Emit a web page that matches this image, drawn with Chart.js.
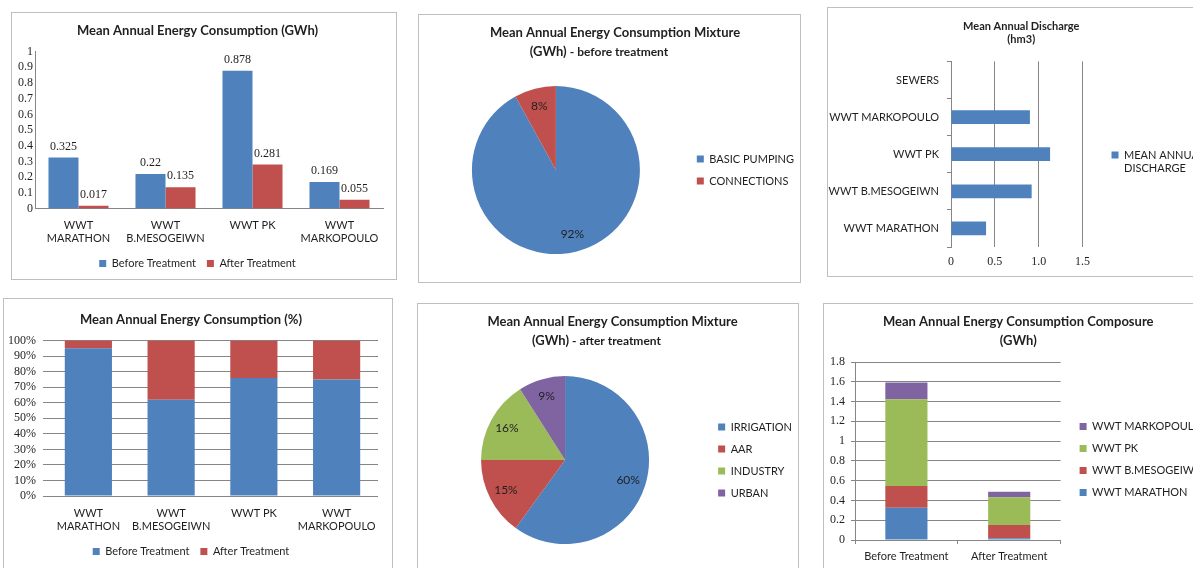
<!DOCTYPE html>
<html>
<head>
<meta charset="utf-8">
<script src="https://cdn.jsdelivr.net/npm/chart.js@4.4.1/dist/chart.umd.min.js"></script>
<style>
html, body { margin:0; padding:0; background:#fff; width:1193px; height:568px; overflow:hidden; }
.panel { position:absolute; border:1px solid #bfbfbf; box-sizing:border-box; overflow:hidden; background:#fff; }
.inner { position:absolute; left:0; top:0; }
</style>
</head>
<body>
<div class="panel" style="left:11px;top:12px;width:386px;height:268px"><div class="inner" style="width:384px;height:266px"><canvas id="c1"></canvas></div></div>
<div class="panel" style="left:418px;top:14px;width:383px;height:269px"><div class="inner" style="width:385px;height:267px"><canvas id="c2"></canvas></div></div>
<div class="panel" style="left:827px;top:7px;width:400px;height:270px"><div class="inner" style="width:390px;height:268px"><canvas id="c3"></canvas></div></div>
<div class="panel" style="left:3px;top:298px;width:390px;height:300px"><div class="inner" style="width:388px;height:268px"><canvas id="c4"></canvas></div></div>
<div class="panel" style="left:417px;top:303px;width:382px;height:300px"><div class="inner" style="width:384px;height:264px"><canvas id="c5"></canvas></div></div>
<div class="panel" style="left:823px;top:303px;width:400px;height:300px"><div class="inner" style="width:390px;height:264px"><canvas id="c6"></canvas></div></div>
<script>
// valores
const plants = [['WWT', 'MARATHON'], ['WWT', 'B.MESOGEIWN'], 'WWT PK', ['WWT', 'MARKOPOULO']];
const plantNames = ['WWT MARATHON', 'WWT B.MESOGEIWN', 'WWT PK', 'WWT MARKOPOULO'];
const beforeGWh = [0.325, 0.22, 0.878, 0.169];
const afterGWh = [0.017, 0.135, 0.281, 0.055];
const beforePct = [95, 62, 76, 75];
const afterPct = [5, 38, 24, 25];
const phases = ['Before Treatment', 'After Treatment'];

const mixBeforeLabels = ['BASIC PUMPING', 'CONNECTIONS'];
const mixBeforeValues = [92, 8];
const mixAfterLabels = ['IRRIGATION', 'AAR', 'INDUSTRY', 'URBAN'];
const mixAfterValues = [60, 15, 16, 9];

const dischargeSites = ['SEWERS', 'WWT MARKOPOULO', 'WWT PK', 'WWT B.MESOGEIWN', 'WWT MARATHON'];
const dischargeValues = [null, 0.9, 1.13, 0.92, 0.4];

// colores estilo Excel
const BLUE = '#4F81BD';
const RED = '#C0504D';
const GREEN = '#9BBB59';
const PURPLE = '#8064A2';
const AXIS = '#868686';
const TEXT = '#1f1f1f';
const SANS = 'Lato, "Open Sans", sans-serif';
const SERIF = '"Liberation Serif", "DejaVu Serif", serif';

Chart.defaults.animation = false;
Chart.defaults.responsive = true;
Chart.defaults.maintainAspectRatio = false;
Chart.defaults.color = TEXT;
Chart.defaults.plugins.tooltip.enabled = false;

function titleOpts(text, size, padTop, padBottom, lineHeight) {
    return {
        display: true, text: text, color: TEXT,
        font: { family: SANS, size: size, weight: 'bold', lineHeight: lineHeight || 1.2 },
        padding: { top: padTop, bottom: padBottom }
    };
}

function legendOpts(position) {
    return {
        position: position,
        fullSize: position === 'bottom',
        maxWidth: 250,
        labels: { boxWidth: 7, boxHeight: 7, color: TEXT, padding: 11, font: { family: SANS, size: 11 } }
    };
}

// subtítulo invisible que reserva el espacio; el texto lo pinta mixedSubtitle
function subtitleOpts(text) {
    return {
        display: true, text: text, color: 'rgba(0,0,0,0)',
        font: { family: SANS, size: 13, weight: 'bold' },
        padding: { top: 3, bottom: 8 }
    };
}

// eje invisible para dejar hueco entre el área y la leyenda
function gapAxis(width) {
    return {
        position: 'right', display: true,
        grid: { display: false }, border: { display: false }, ticks: { display: false },
        afterFit(s) { s.width = width; }
    };
}

const fmtTick = v => String(Math.round(v * 10) / 10);

// etiquetas de valor encima de las barras
const barValueLabels = {
    id: 'barValueLabels',
    afterDatasetsDraw(chart) {
        const ctx = chart.ctx;
        ctx.save();
        ctx.font = '12px ' + SERIF;
        ctx.fillStyle = TEXT;
        ctx.textAlign = 'center';
        ctx.textBaseline = 'bottom';
        chart.data.datasets.forEach((ds, d) => {
            chart.getDatasetMeta(d).data.forEach((bar, i) => {
                ctx.fillText(String(ds.data[i]), bar.x, bar.y - 5);
            });
        });
        ctx.restore();
    }
};

// porcentajes dentro de las porciones
const pieValueLabels = {
    id: 'pieValueLabels',
    afterDatasetsDraw(chart) {
        const ctx = chart.ctx;
        const values = chart.data.datasets[0].data;
        ctx.save();
        ctx.font = '12px ' + SANS;
        ctx.fillStyle = TEXT;
        ctx.textAlign = 'center';
        ctx.textBaseline = 'middle';
        chart.getDatasetMeta(0).data.forEach((arc, i) => {
            const p = arc.getProps(['x', 'y', 'startAngle', 'endAngle', 'outerRadius']);
            const mid = (p.startAngle + p.endAngle) / 2;
            const r = p.outerRadius * 0.79;
            ctx.fillText(values[i] + '%', p.x + Math.cos(mid) * r, p.y + Math.sin(mid) * r);
        });
        ctx.restore();
    }
};

// segunda línea del título con dos tamaños de letra
const mixedSubtitle = {
    id: 'mixedSubtitle',
    afterDraw(chart, args, opts) {
        if (!opts.parts) return;
        const ctx = chart.ctx;
        const tb = chart.titleBlock;
        const baseline = tb.bottom + 3 + 7.8 + 4.5;
        ctx.save();
        ctx.fillStyle = TEXT;
        ctx.textBaseline = 'alphabetic';
        ctx.textAlign = 'left';
        const widths = opts.parts.map(([txt, size]) => {
            ctx.font = 'bold ' + size + 'px ' + SANS;
            return ctx.measureText(txt).width;
        });
        const total = widths.reduce((a, b) => a + b, 0);
        let x = (tb.left + tb.right) / 2 - total / 2 + (opts.shift || 0);
        opts.parts.forEach(([txt, size], i) => {
            ctx.font = 'bold ' + size + 'px ' + SANS;
            ctx.fillText(txt, x, baseline);
            x += widths[i];
        });
        ctx.restore();
    }
};

// 1. consumo anual (GWh)
const chart1 = new Chart(document.getElementById('c1'), {
    type: 'bar',
    data: {
        labels: plants,
        datasets: [
            { label: phases[0], data: beforeGWh, backgroundColor: BLUE, categoryPercentage: 0.69, barPercentage: 1 },
            { label: phases[1], data: afterGWh, backgroundColor: RED, categoryPercentage: 0.69, barPercentage: 1 }
        ]
    },
    options: {
        layout: { padding: { left: 0, right: 13, top: 0, bottom: 0 } },
        plugins: {
            title: titleOpts('Mean Annual Energy Consumption (GWh)', 13, 10, 13),
            legend: legendOpts('bottom')
        },
        scales: {
            x: {
                grid: { display: false, drawTicks: false },
                border: { color: AXIS },
                ticks: { autoSkip: false, maxRotation: 0, padding: 10, font: { family: SANS, size: 11 } },
                afterFit(s) { s.height = 38.5; }
            },
            y: {
                min: 0, max: 1,
                grid: { display: false, drawTicks: false },
                border: { color: AXIS },
                ticks: { stepSize: 0.1, autoSkip: false, padding: 2, callback: fmtTick, font: { family: SERIF, size: 12 } },
                afterFit(s) { s.width = 23; }
            }
        }
    },
    plugins: [barValueLabels]
});

// 2. mezcla antes del tratamiento
const chart2 = new Chart(document.getElementById('c2'), {
    type: 'pie',
    data: {
        labels: mixBeforeLabels,
        datasets: [{ data: mixBeforeValues, backgroundColor: [BLUE, RED], borderWidth: 0, radius: 84 }]
    },
    options: {
        layout: { padding: { left: 7, right: 0, top: 0, bottom: 9 } },
        plugins: {
            title: titleOpts('Mean Annual Energy Consumption Mixture', 13, 10, 0),
            subtitle: subtitleOpts('(GWh) - before treatment'),
            mixedSubtitle: { parts: [['(GWh) ', 13], ['- before treatment', 12]], shift: -16 },
            legend: legendOpts('right')
        }
    },
    plugins: [pieValueLabels, mixedSubtitle]
});

// 3. caudal anual
const legend3 = legendOpts('right');
legend3.title = { display: true, text: '', padding: 2, font: { size: 11 } };
legend3.labels.generateLabels = function (chart) {
    const items = Chart.defaults.plugins.legend.labels.generateLabels(chart);
    items.forEach(it => {
        const words = it.text.split(' ');
        it.text = [words.slice(0, 2).join(' '), words.slice(2).join(' ')];
    });
    return items;
};
const chart3 = new Chart(document.getElementById('c3'), {
    type: 'bar',
    data: {
        labels: dischargeSites,
        datasets: [{ label: 'MEAN ANNUAL DISCHARGE', data: dischargeValues, backgroundColor: BLUE, categoryPercentage: 0.37, barPercentage: 1 }]
    },
    options: {
        indexAxis: 'y',
        layout: { padding: { left: 0, right: 3.5, top: 0, bottom: 0 } },
        plugins: {
            title: titleOpts(['Mean Annual Discharge', '(hm3)'], 11, 12, 15),
            legend: legend3
        },
        scales: {
            x: {
                min: 0, max: 1.5,
                grid: { color: AXIS, drawTicks: false },
                border: { display: false },
                ticks: { stepSize: 0.5, padding: 8, font: { family: SERIF, size: 12 } },
                afterFit(s) { s.height = 29; }
            },
            y: {
                grid: { color: AXIS, drawOnChartArea: false, tickLength: 4 },
                border: { color: AXIS },
                ticks: { padding: 8, font: { family: SANS, size: 11 } },
                afterFit(s) { s.width = 123; }
            },
            gap: gapAxis(18)
        }
    }
});

// 4. consumo anual (%)
const chart4 = new Chart(document.getElementById('c4'), {
    type: 'bar',
    data: {
        labels: plants,
        datasets: [
            { label: phases[0], data: beforePct, backgroundColor: BLUE, categoryPercentage: 0.57, barPercentage: 1 },
            { label: phases[1], data: afterPct, backgroundColor: RED, categoryPercentage: 0.57, barPercentage: 1 }
        ]
    },
    options: {
        layout: { padding: { left: 0, right: 14, top: 0, bottom: 0 } },
        plugins: {
            title: titleOpts('Mean Annual Energy Consumption (%)', 13, 13, 13),
            legend: legendOpts('bottom')
        },
        scales: {
            x: {
                stacked: true,
                grid: { display: false, drawTicks: false },
                border: { display: false },
                ticks: { autoSkip: false, maxRotation: 0, padding: 10.5, font: { family: SANS, size: 11 } },
                afterFit(s) { s.height = 39; }
            },
            y: {
                stacked: true,
                min: 0, max: 100,
                grid: { color: AXIS, tickLength: 4 },
                border: { display: false },
                ticks: { stepSize: 10, autoSkip: false, padding: 7, font: { family: SERIF, size: 12 }, callback: v => v + '%' },
                afterFit(s) { s.width = 43; }
            }
        }
    }
});

// 5. mezcla después del tratamiento
const chart5 = new Chart(document.getElementById('c5'), {
    type: 'pie',
    data: {
        labels: mixAfterLabels,
        datasets: [{ data: mixAfterValues, backgroundColor: [BLUE, RED, GREEN, PURPLE], borderWidth: 0, radius: 84 }]
    },
    options: {
        layout: { padding: { left: 5, right: 0, top: 0, bottom: 4 } },
        plugins: {
            title: titleOpts('Mean Annual Energy Consumption Mixture', 13, 10, 0),
            subtitle: subtitleOpts('(GWh) - after treatment'),
            mixedSubtitle: { parts: [['(GWh) ', 13], ['- after treatment', 12]], shift: -16 },
            legend: legendOpts('right')
        }
    },
    plugins: [pieValueLabels, mixedSubtitle]
});

// 6. composición del consumo
const siteColors = [BLUE, RED, GREEN, PURPLE];
const legend6 = legendOpts('right');
legend6.reverse = true;
legend6.title = { display: true, text: '', padding: 2, font: { size: 11 } };
const chart6 = new Chart(document.getElementById('c6'), {
    type: 'bar',
    data: {
        labels: phases,
        datasets: plantNames.map((name, i) => ({
            label: name,
            data: [beforeGWh[i], afterGWh[i]],
            backgroundColor: siteColors[i],
            categoryPercentage: 0.41,
            barPercentage: 1
        }))
    },
    options: {
        layout: { padding: { left: 0, right: 1.5, top: 0, bottom: 0 } },
        plugins: {
            title: titleOpts(['Mean Annual Energy Consumption Composure', '(GWh)'], 13, 8, 11, 1.5),
            legend: legend6
        },
        scales: {
            x: {
                stacked: true,
                grid: { color: AXIS, drawOnChartArea: false, tickLength: 4 },
                border: { color: AXIS },
                ticks: { padding: 6, font: { family: SANS, size: 11 } },
                afterFit(s) { s.height = 28; }
            },
            y: {
                stacked: true,
                min: 0, max: 1.8,
                grid: { color: AXIS, tickLength: 4 },
                border: { color: AXIS },
                ticks: { stepSize: 0.2, autoSkip: false, padding: 6, callback: fmtTick, font: { family: SERIF, size: 12 } },
                afterFit(s) { s.width = 31; }
            },
            gap: gapAxis(8)
        }
    }
});
</script>
</body>
</html>
